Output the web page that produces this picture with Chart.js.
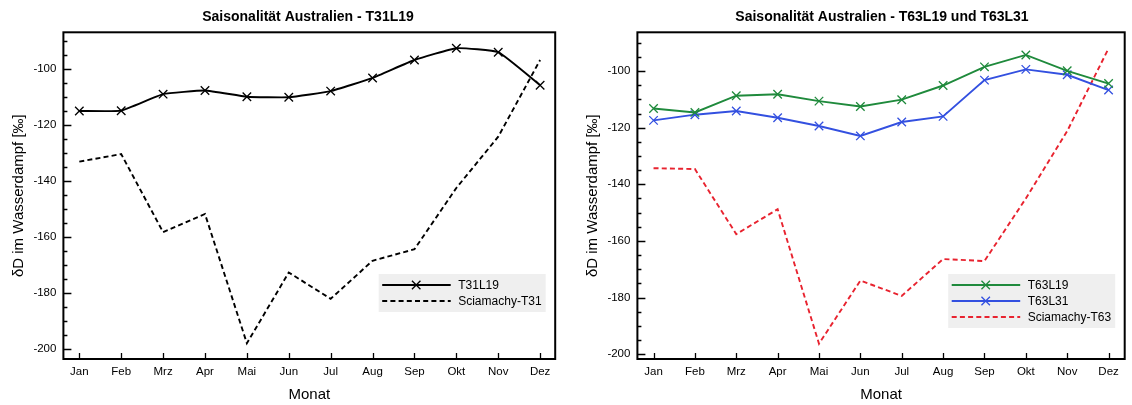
<!DOCTYPE html>
<html>
<head>
<meta charset="utf-8">
<script src="https://cdn.jsdelivr.net/npm/chart.js@4.4.1/dist/chart.umd.min.js"></script>
<style>
  html, body { margin: 0; padding: 0; background: #fff; }
  body { width: 1132px; height: 405px; position: relative; overflow: hidden; }
  .panel { position: absolute; top: 0; height: 405px; }
</style>
</head>
<body>
<div class="panel" style="left:0;width:566px"><canvas id="chartT31"></canvas></div>
<div class="panel" style="left:574px;width:558px"><canvas id="chartT63"></canvas></div>
<script>
// Monthly δD seasonality over Australia (‰)
const months = ['Jan', 'Feb', 'Mrz', 'Apr', 'Mai', 'Jun', 'Jul', 'Aug', 'Sep', 'Okt', 'Nov', 'Dez'];
const yTickValues = [-200, -180, -160, -140, -120, -100];

const t31l19   = [-115.0, -114.9, -109.0, -107.7, -109.9, -110.1, -107.9, -103.2, -96.8, -92.6, -94.0, -105.8];
const sciaT31  = [-133.1, -130.4, -158.3, -151.8, -198.0, -172.7, -182.1, -168.5, -164.4, -142.5, -124.2, -96.8];

const t63l19   = [-113.2, -114.6, -108.7, -108.2, -110.6, -112.5, -110.1, -105.1, -98.5, -94.3, -99.9, -104.4];
const t63l31   = [-117.4, -115.4, -114.1, -116.5, -119.4, -122.9, -118.0, -116.0, -103.2, -99.4, -101.3, -106.7];
const sciaT63  = [-134.3, -134.6, -157.6, -148.8, -196.3, -174.0, -179.4, -166.4, -167.1, -145.0, -121.2, -92.0];

const FONT = '"Liberation Sans", Arial, Helvetica, sans-serif';

const toPoints = vals => vals.map((v, i) => ({ x: i, y: v }));

function modelSeries(label, vals, color, tension) {
  return {
    label, data: toPoints(vals),
    borderColor: color, backgroundColor: color,
    borderWidth: 1.9, tension: tension || 0,
    pointStyle: 'crossRot', pointRadius: 6, pointBorderWidth: 1.3,
    pointBorderColor: color, pointHoverRadius: 6
  };
}
function satelliteSeries(label, vals, color) {
  return {
    label, data: toPoints(vals),
    borderColor: color, backgroundColor: color,
    borderWidth: 1.9, borderDash: [5, 3.2], tension: 0,
    pointRadius: 0, pointHoverRadius: 0
  };
}

// Frame, inward tick marks, titles and the boxed legend
const decorations = {
  id: 'decorations',
  afterDraw(chart, args, opts) {
    const ctx = chart.ctx;
    const a = chart.chartArea;
    const xs = chart.scales.x, ys = chart.scales.y;
    ctx.save();

    // tick marks pointing into the plot
    ctx.strokeStyle = '#000';
    ctx.lineWidth = 1.3;
    ctx.beginPath();
    const start = Math.ceil(ys.min / 5) * 5;
    for (let v = start; v <= ys.max; v += 5) {
      const py = Math.round(ys.getPixelForValue(v)) + 0.5;
      const len = (v % 20 === 0) ? 8 : 4;
      ctx.moveTo(a.left, py); ctx.lineTo(a.left + len, py);
    }
    xs.ticks.forEach(t => {
      const px = Math.round(xs.getPixelForValue(t.value)) + 0.5;
      ctx.moveTo(px, a.bottom); ctx.lineTo(px, a.bottom - 6);
    });
    ctx.stroke();

    // plot frame
    ctx.lineWidth = 2;
    ctx.strokeRect(a.left, a.top, a.right - a.left, a.bottom - a.top);

    // chart title
    ctx.fillStyle = '#000';
    ctx.textAlign = 'center';
    ctx.textBaseline = 'alphabetic';
    ctx.font = 'bold 14px ' + FONT;
    ctx.fillText(opts.title, opts.titleX, 20.5);

    // axis titles
    ctx.font = '15px ' + FONT;
    ctx.fillText('Monat', (a.left + a.right) / 2, 398.5);
    ctx.save();
    ctx.translate(23, (a.top + a.bottom) / 2);
    ctx.rotate(-Math.PI / 2);
    ctx.fillText('δD im Wasserdampf [‰]', 0, 0);
    ctx.restore();

    // legend box
    const sets = chart.data.datasets;
    const bw = 167, rowH = 16;
    const bh = rowH * sets.length + 6;
    const bx = a.right - 9.5 - bw, by = 274;
    ctx.fillStyle = '#efefef';
    ctx.fillRect(bx, by, bw, bh);
    ctx.font = '12px ' + FONT;
    ctx.textAlign = 'left';
    ctx.textBaseline = 'middle';
    sets.forEach((ds, i) => {
      const ry = by + 11 + i * rowH;
      ctx.strokeStyle = ds.borderColor;
      ctx.lineWidth = ds.borderWidth;
      ctx.setLineDash(ds.borderDash || []);
      ctx.beginPath();
      ctx.moveTo(bx + 3.5, ry); ctx.lineTo(bx + 72, ry);
      ctx.stroke();
      ctx.setLineDash([]);
      if (ds.pointRadius > 0) {
        const cx = bx + 37.5, r = ds.pointRadius * Math.SQRT1_2;
        ctx.lineWidth = ds.pointBorderWidth;
        ctx.beginPath();
        ctx.moveTo(cx - r, ry - r); ctx.lineTo(cx + r, ry + r);
        ctx.moveTo(cx - r, ry + r); ctx.lineTo(cx + r, ry - r);
        ctx.stroke();
      }
      ctx.fillStyle = '#000';
      ctx.fillText(ds.label, bx + 79.5, ry + 0.5);
    });
    ctx.restore();
  }
};

function makeChart(id, datasets, cfg) {
  return new Chart(document.getElementById(id), {
    type: 'line',
    data: { datasets },
    plugins: [decorations],
    options: {
      responsive: true,
      maintainAspectRatio: false,
      animation: false,
      events: [],
      layout: { padding: { top: 32.3, right: cfg.padRight, left: 0, bottom: 0 } },
      plugins: {
        legend: { display: false },
        title: { display: false },
        tooltip: { enabled: false },
        decorations: { title: cfg.title, titleX: 308 }
      },
      scales: {
        x: {
          type: 'linear',
          min: cfg.xMin, max: cfg.xMax,
          afterBuildTicks: s => { s.ticks = months.map((m, i) => ({ value: i })); },
          afterFit: s => { s.height = 46; },
          grid: { display: false, drawTicks: false },
          border: { display: false },
          ticks: {
            autoSkip: false, maxRotation: 0, padding: 5.5, color: '#000',
            font: { family: FONT, size: 11.5 },
            callback: v => months[v]
          }
        },
        y: {
          min: cfg.yMin, max: cfg.yMax,
          afterBuildTicks: s => { s.ticks = yTickValues.map(v => ({ value: v })); },
          afterFit: s => { s.width = 63.4; },
          grid: { display: false, drawTicks: false },
          border: { display: false },
          ticks: {
            padding: 7, color: '#000',
            font: { family: FONT, size: 11.5 }
          }
        }
      }
    }
  });
}

makeChart('chartT31', [
  modelSeries('T31L19', t31l19, '#000000', 0.12),
  satelliteSeries('Sciamachy-T31', sciaT31, '#000000')
], { title: 'Saisonalität Australien - T31L19', xMin: -0.38, xMax: 11.36, yMin: -203.6, yMax: -86.9, padRight: 10.8 });

makeChart('chartT63', [
  modelSeries('T63L19', t63l19, '#1f8a3c'),
  modelSeries('T63L31', t63l31, '#3350e0'),
  satelliteSeries('Sciamachy-T63', sciaT63, '#e8232f')
], { title: 'Saisonalität Australien - T63L19 und T63L31', xMin: -0.39, xMax: 11.39, yMin: -201.7, yMax: -86.3, padRight: 1.8 });
</script>
</body>
</html>
